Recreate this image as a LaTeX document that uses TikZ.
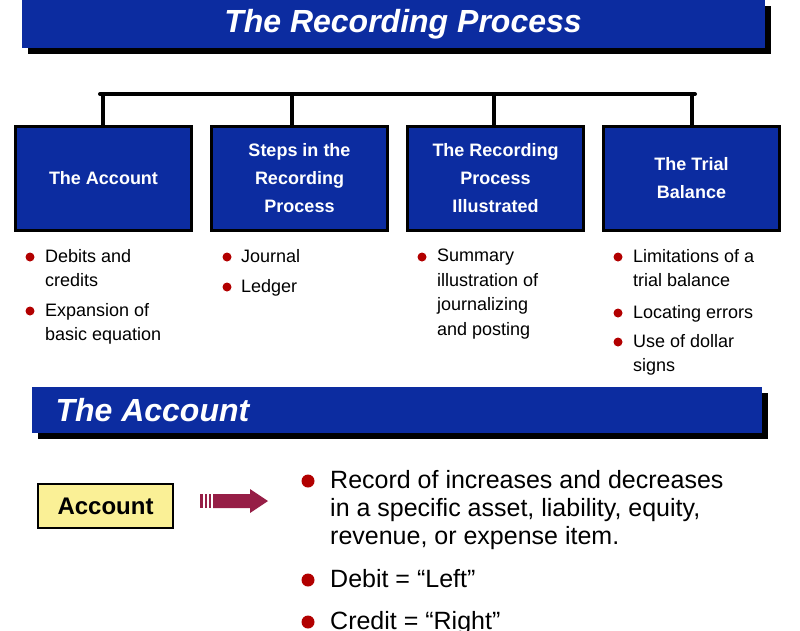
\documentclass[tikz,border=0pt]{standalone}
\usepackage{fontspec}
\setmainfont{Liberation Sans}
\usetikzlibrary{arrows.meta}
\definecolor{bblue}{RGB}{12,44,160}
\definecolor{maroon}{RGB}{150,30,70}
\definecolor{ylw}{RGB}{250,240,150}
\tikzset{
 topic/.style={draw=black,line width=3pt,fill=bblue,minimum width=176pt,minimum height=104pt,text=white,font=\bfseries\fontsize{18}{28}\selectfont,align=center},
 bul/.style={circle,fill=red!70!black,inner sep=0pt,minimum size=9pt},
 btxt/.style={anchor=north west,inner sep=0pt,align=left,font=\fontsize{18}{24.5}\selectfont},
 bul2/.style={circle,fill=red!70!black,inner sep=0pt,minimum size=13pt},
 btxt2/.style={anchor=north west,inner sep=0pt,align=left,font=\fontsize{25}{28}\selectfont},
}
\begin{document}
\begin{tikzpicture}[x=1pt,y=-1pt]
\useasboundingbox (0,0) rectangle (800,630);
% title bar
\fill[black] (28,6) rectangle (771,54);
\fill[bblue] (22,0) rectangle (765,48);
\node[text=white,font=\bfseries\itshape\fontsize{32}{32}\selectfont] (title) at (403,24) {The Recording Process};
% topics
\node[topic] (t1) at (103.5,178.5) {The Account};
\node[topic] (t2) at (299.5,178.5) {Steps in the\\Recording\\Process};
\node[topic] (t3) at (495.5,178.5) {The Recording\\Process\\Illustrated};
\node[topic] (t4) at (691.5,178.5) {The Trial\\Balance};
\coordinate (h1) at (103,94); \coordinate (h2) at (292,94);
\coordinate (h3) at (494,94); \coordinate (h4) at (692,94);
\draw[line width=4pt,line cap=round] (100,94) -- (695,94);
\foreach \i in {1,2,3,4}{\draw[line width=4pt] (h\i) -- (h\i |- t\i.north);}
% bullets
\node[bul] (b11) at (30,257) {}; \node[btxt] (x11) at (45,249) {Debits and\\credits};
\node[bul] (b12) at (30,311) {}; \node[btxt] (x12) at (45,303) {Expansion of\\basic equation};
\node[bul] (b21) at (227,257) {}; \node[btxt] (x21) at (241,249) {Journal};
\node[bul] (b22) at (227,287) {}; \node[btxt] (x22) at (241,279) {Ledger};
\node[bul] (b31) at (422,257) {}; \node[btxt] (x31) at (437,249) {Summary\\illustration of\\journalizing\\and posting};
\node[bul] (b41) at (618,257) {}; \node[btxt] (x41) at (633,249) {Limitations of a\\trial balance};
\node[bul] (b42) at (618,313) {}; \node[btxt] (x42) at (633,305) {Locating errors};
\node[bul] (b43) at (618,342) {}; \node[btxt] (x43) at (633,334) {Use of dollar\\signs};
% second bar
\fill[black] (38,393) rectangle (768,439);
\fill[bblue] (32,387) rectangle (762,433);
\node[anchor=west,text=white,font=\bfseries\itshape\fontsize{32}{32}\selectfont] (sub) at (52,410) {The Account};
% account box
\node[draw=black,line width=2pt,fill=ylw,minimum width=135pt,minimum height=44pt,font=\bfseries\fontsize{24}{24}\selectfont] (acc) at (105.5,506) {Account};
% arrow
\fill[maroon] (200,494) rectangle (203,508);
\fill[maroon] (205,494) rectangle (207,508);
\fill[maroon] (209,494) rectangle (211,508);
\fill[maroon] (213,494) -- (250,494) -- (250,489) -- (268,501) -- (250,513) -- (250,508) -- (213,508) -- cycle;
% right bullets
\node[bul2] (c1) at (308,481) {}; \node[btxt2] (y1) at (330,470) {Record of increases and decreases\\in a specific asset, liability, equity,\\revenue, or expense item.};
\node[bul2] (c2) at (308,580) {}; \node[btxt2] (y2) at (330,569) {Debit = “Left”};
\node[bul2] (c3) at (308,622) {}; \node[btxt2] (y3) at (330,611) {Credit = “Right”};
\end{tikzpicture}
\end{document}
